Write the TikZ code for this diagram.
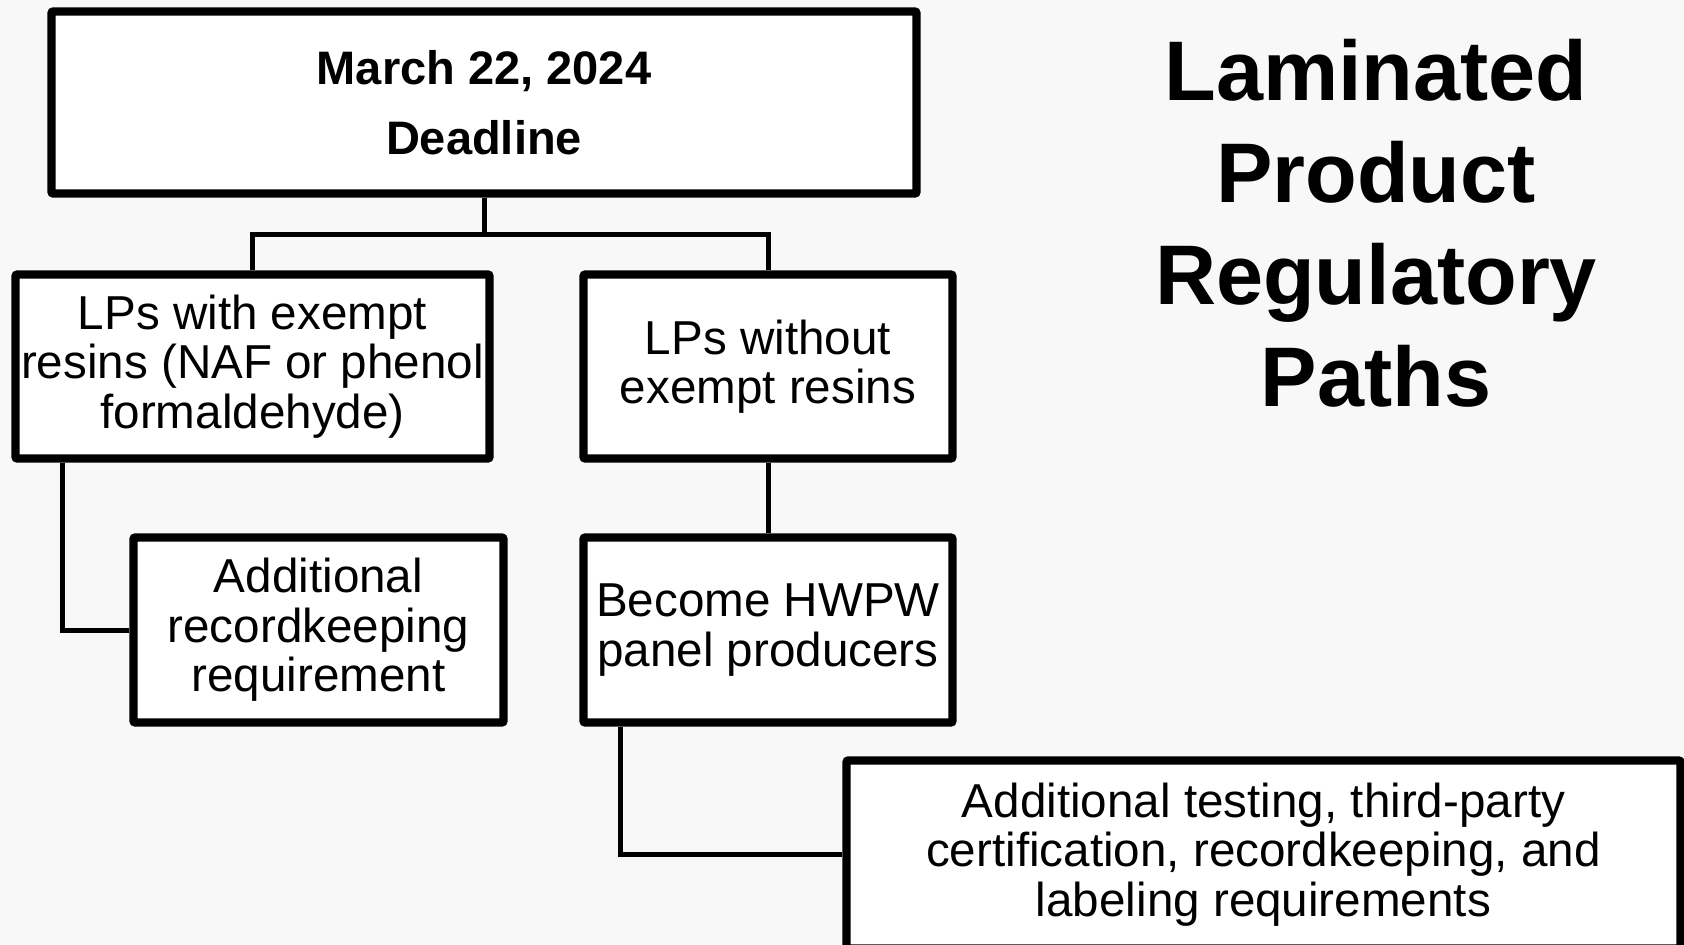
\documentclass[tikz,border=0pt]{standalone}
\usepackage{fontspec}
\setmainfont{Liberation Sans}
\usetikzlibrary{shadows}
\definecolor{bgc}{HTML}{F8F8F8}
\tikzset{
  box/.style={draw=black, fill=white, line width=4.2pt, rounded corners=1pt,
    align=center, inner sep=0pt,
    font=\fontsize{23.8}{24.7}\selectfont,
    drop shadow={shadow xshift=1.2pt, shadow yshift=-1.5pt, opacity=0.18, fill=black}},
  link/.style={draw=black, line width=2.5pt},
}
\begin{document}
\begin{tikzpicture}[x=0.5pt,y=-0.5pt]
\useasboundingbox (0,0) rectangle (1684,945);
\fill[bgc] (0,0) rectangle (1684,945);
\begin{scope}
\clip (0,0) rectangle (1684,945);
\node[box, minimum width=432.5pt, minimum height=91pt,
  font=\bfseries\fontsize{23.5}{35}\selectfont] (top) at (484,102.5) {March 22, 2024\\Deadline};
\node[box, minimum width=237pt, minimum height=92pt] (lpa) at (252.5,366.5)
  {LPs with exempt\\resins (NAF or phenol\\formaldehyde)};
\node[box, minimum width=184.5pt, minimum height=92pt] (lpb) at (768,366.5)
  {LPs without\\exempt resins};
\node[box, minimum width=185pt, minimum height=92.5pt] (rec) at (318.5,630)
  {Additional\\recordkeeping\\requirement};
\node[box, minimum width=184.5pt, minimum height=92.5pt] (hwpw) at (768,630)
  {Become HWPW\\panel producers};
\node[box, minimum width=417pt, minimum height=94pt] (req) at (1263.5,854.5)
  {Additional testing, third-party\\certification, recordkeeping, and\\labeling requirements};
\end{scope}
\node[align=center, inner sep=0pt, font=\bfseries\fontsize{42.3}{51}\selectfont] (title) at (1376,223)
  {Laminated\\Product\\Regulatory\\Paths};
\coordinate (j) at (0,234.5);
\coordinate (ax) at (62.5,0);
\coordinate (bx) at (620,0);
\draw[link] (top.south) -- (top.south |- j);
\draw[link] (lpa.north) |- (j -| top.south) -| (lpb.north);
\draw[link] (lpa.south -| ax) |- (rec.west);
\draw[link] (lpb.south) -- (hwpw.north);
\draw[link] (hwpw.south -| bx) |- (req.west);
\end{tikzpicture}
\end{document}
